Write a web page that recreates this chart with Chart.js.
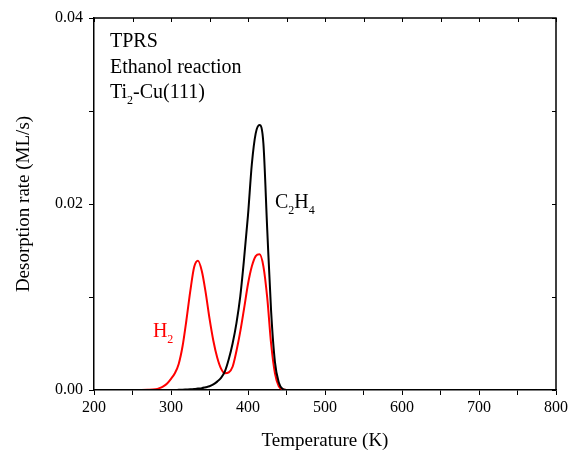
<!DOCTYPE html>
<html>
<head>
<meta charset="utf-8">
<script src="https://cdn.jsdelivr.net/npm/chart.js@4.4.1/dist/chart.umd.min.js"></script>
<style>
  html, body { margin: 0; padding: 0; background: #fff; }
  #wrap { width: 568px; height: 452px; position: relative; }
</style>
</head>
<body>
<div id="wrap"><canvas id="tprs"></canvas></div>
<script>
// ============================================================
// TPRS data
// ============================================================

const temperature = [200, 250, 270, 280, 285, 290, 295, 300, 305, 310, 315, 320, 325, 330, 335,
  340, 345, 350, 355, 360, 365, 370, 375, 380, 385, 390, 395, 400, 405, 410, 415,
  420, 425, 430, 435, 440, 445, 450, 460, 500, 600, 700, 800];

const h2Rate = [0, 0, 0.00002, 0.00008, 0.0002, 0.0004, 0.0007, 0.0012, 0.0018, 0.0028, 0.0047, 0.0075, 0.0106, 0.0132, 0.0139,
  0.0128, 0.0105, 0.0077, 0.0053, 0.0035, 0.0023, 0.0018, 0.0019, 0.0025, 0.0042, 0.0063, 0.0088, 0.0114, 0.0133, 0.0144, 0.0146,
  0.0133, 0.0099, 0.0050, 0.0018, 0.0004, 0.0001, 0, 0, 0, 0, 0, 0];

const c2h4Rate = [0, 0, 0, 0, 0, 0, 0, 0, 0, 0.00002, 0.00003, 0.00005, 0.00007, 0.0001, 0.00015,
  0.0002, 0.0003, 0.0004, 0.0006, 0.0009, 0.0013, 0.0020, 0.0033, 0.0050, 0.0072, 0.0101, 0.0142, 0.0188, 0.0243, 0.0276, 0.0285,
  0.0265, 0.0172, 0.0085, 0.0030, 0.0008, 0.0001, 0, 0, 0, 0, 0, 0];

const xTicksMajor = [200, 300, 400, 500, 600, 700, 800];
const yTicksMajor = [0, 0.02, 0.04];

const infoLines = [['TPRS'], ['Ethanol reaction'], ['Ti', '2', '-Cu(111)']];
const c2h4Label = ['C', '2', 'H', '4'];
const h2Label = ['H', '2'];

const SERIF = '"Liberation Serif", "Times New Roman", serif';

function toPoints(xs, ys) {
  return xs.map((x, i) => ({ x, y: ys[i] }));
}

// Text with alternating normal / subscript parts
function drawSubText(ctx, x, y, parts, size, color) {
  ctx.fillStyle = color;
  ctx.textBaseline = 'alphabetic';
  ctx.textAlign = 'left';
  let cx = x;
  parts.forEach((p, i) => {
    const sub = i % 2 === 1;
    ctx.font = (sub ? Math.round(size * 0.62) : size) + 'px ' + SERIF;
    ctx.fillText(p, cx, sub ? y + size * 0.3 : y);
    cx += ctx.measureText(p).width;
  });
}

// Frame (top/right) with inward ticks, plus text annotations
const framePlugin = {
  id: 'frame',
  afterDraw(chart) {
    const { ctx, chartArea: a, scales: { x, y } } = chart;
    ctx.save();
    ctx.strokeStyle = '#000';
    ctx.lineWidth = 1.5;
    ctx.beginPath();
    ctx.moveTo(a.left, a.top);
    ctx.lineTo(a.right, a.top);
    ctx.lineTo(a.right, a.bottom);
    ctx.stroke();

    ctx.lineWidth = 1;
    ctx.beginPath();
    x.ticks.forEach(t => {
      const px = Math.round(x.getPixelForValue(t.value)) + 0.5;
      ctx.moveTo(px, a.top);
      ctx.lineTo(px, a.top + 4);
    });
    y.ticks.forEach(t => {
      const py = Math.round(y.getPixelForValue(t.value)) + 0.5;
      ctx.moveTo(a.right, py);
      ctx.lineTo(a.right - 4, py);
    });
    ctx.stroke();

    infoLines.forEach((parts, i) => {
      drawSubText(ctx, a.left + 16, a.top + 29 + i * 25.5, parts, 20, '#000');
    });
    drawSubText(ctx, x.getPixelForValue(435), y.getPixelForValue(0.0196), c2h4Label, 20, '#000');
    drawSubText(ctx, x.getPixelForValue(276.5), y.getPixelForValue(0.0057), h2Label, 20, '#ff0000');
    ctx.restore();
  }
};

new Chart(document.getElementById('tprs'), {
  type: 'line',
  data: {
    datasets: [
      {
        label: 'C2H4',
        data: toPoints(temperature, c2h4Rate),
        borderColor: '#000000',
        borderWidth: 2,
        pointRadius: 0,
        cubicInterpolationMode: 'monotone',
      },
      {
        label: 'H2',
        data: toPoints(temperature, h2Rate),
        borderColor: '#ff0000',
        borderWidth: 2,
        pointRadius: 0,
        cubicInterpolationMode: 'monotone',
      }
    ]
  },
  options: {
    responsive: true,
    maintainAspectRatio: false,
    animation: false,
    layout: { padding: { left: 0, right: 12, top: 18, bottom: 0 } },
    plugins: { legend: { display: false }, tooltip: { enabled: false } },
    scales: {
      x: {
        type: 'linear',
        min: 200,
        max: 800,
        afterFit: s => { s.height = 62; s.paddingRight = 0; s.paddingLeft = 0; },
        border: { color: '#000', width: 1.5 },
        grid: { drawOnChartArea: false, color: '#000', tickLength: 5 },
        ticks: {
          stepSize: 50,
          color: '#000',
          padding: 3,
          maxRotation: 0,
          autoSkip: false,
          font: { family: SERIF, size: 16 },
          callback: v => xTicksMajor.includes(v) ? String(v) : '',
        },
        title: {
          display: true,
          text: 'Temperature (K)',
          color: '#000',
          font: { family: SERIF, size: 19 },
          padding: { top: 0, bottom: 0 },
        }
      },
      y: {
        min: 0,
        max: 0.04,
        afterFit: s => { s.width = 94; },
        border: { color: '#000', width: 1.5 },
        grid: { drawOnChartArea: false, color: '#000', tickLength: 5 },
        ticks: {
          stepSize: 0.01,
          color: '#000',
          padding: 6,
          autoSkip: false,
          font: { family: SERIF, size: 16 },
          callback: v => yTicksMajor.some(t => Math.abs(t - v) < 1e-9) ? v.toFixed(2) : '',
        },
        title: {
          display: true,
          text: 'Desorption rate (ML/s)',
          color: '#000',
          font: { family: SERIF, size: 19 },
          padding: { top: 13, bottom: 0 },
        }
      }
    }
  },
  plugins: [framePlugin]
});
</script>
</body>
</html>
